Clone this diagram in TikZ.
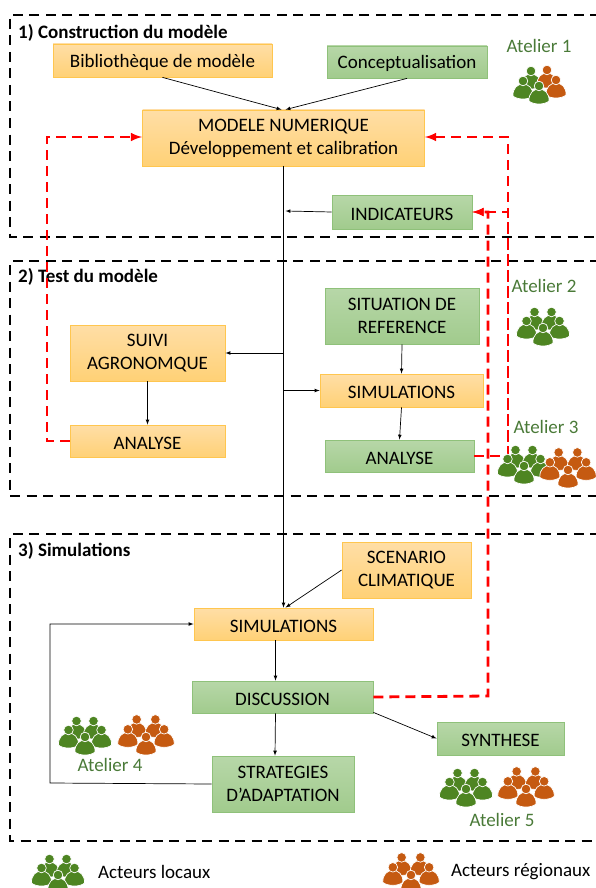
\documentclass[tikz,border=0pt]{standalone}
\usepackage{fontspec}
\setmainfont{Carlito}
\usepackage{tikz}
\definecolor{localgreen}{HTML}{4E8522}
\definecolor{regionalorange}{HTML}{C55A11}
\definecolor{ateliergreen}{HTML}{4A7A38}
\definecolor{orangetop}{HTML}{FFDEA6}
\definecolor{orangebottom}{HTML}{FFD176}
\definecolor{orangeline}{HTML}{FFC64F}
\definecolor{greentop}{HTML}{B7D7A8}
\definecolor{greenbottom}{HTML}{A1CB8D}
\definecolor{greenline}{HTML}{8FC17A}
\tikzset{
	orangebox/.style={draw=orangeline,line width=.8pt,top color=orangetop,bottom color=orangebottom,align=center,inner sep=0pt,font=\fontsize{19}{23}\selectfont,execute at begin node={\rule{0pt}{17pt}}},
	greenbox/.style={draw=greenline,line width=.8pt,top color=greentop,bottom color=greenbottom,align=center,inner sep=0pt,font=\fontsize{19}{23}\selectfont,execute at begin node={\rule{0pt}{17pt}}},
	twolines/.style={execute at begin node={\rule{0pt}{21pt}}},
	flow/.style={black,line width=.7pt,-latex},
	feedback/.style={red,line width=2.8pt,dash pattern=on 10pt off 6pt,-latex},
	frame/.style={black,line width=2.8pt,dash pattern=on 10pt off 6.5pt},
	heading/.style={font=\fontsize{19}{21}\selectfont\bfseries,anchor=west,inner sep=0pt},
	atelier/.style={font=\fontsize{19}{21}\selectfont,text=ateliergreen,inner sep=0pt},
	legend/.style={font=\fontsize{19}{21}\selectfont,anchor=west,inner sep=0pt},
	pics/person/.style={code={
		\fill[#1,draw=white,line width=.7pt] (-10,15) .. controls (-11,-1) and (11,-1) .. (10,15) .. controls (6,19) and (-6,19) .. (-10,15) -- cycle;
		\fill[#1,draw=white,line width=.7pt] (0,0) circle (4.8);
	}},
	pics/people/.style={code={
		\foreach \px/\py in {-8.5/-16,8.5/-16,-16.5/-7,16.5/-7,0/0}
			\pic at (\px,\py) {person=#1};
	}}
}
\begin{document}
\begin{tikzpicture}[x=1pt,y=-1pt]
	\useasboundingbox (0,0) rectangle (595,888);

	\draw[frame] (600,15) -- (10,15) -- (10,237) -- (600,237);
	\draw[frame] (600,261) -- (10,261) -- (10,496) -- (600,496);
	\draw[frame] (600,534) -- (10,534) -- (10,841) -- (600,841);

	\node[heading] (title1) at (18,33) {1) Construction du modèle};
	\node[heading] (title2) at (18,277) {2) Test du modèle};
	\node[heading] (title3) at (18,551) {3) Simulations};

	\node[orangebox,minimum width=219pt,minimum height=33pt] (biblio) at (162.5,60.5) {Bibliothèque de modèle};
	\node[greenbox,minimum width=160pt,minimum height=32pt] (concept) at (407,62) {Conceptualisation};
	\node[orangebox,twolines,minimum width=282pt,minimum height=56pt] (modele) at (283.5,138) {MODELE NUMERIQUE\\Développement et calibration};
	\node[greenbox,minimum width=140pt,minimum height=34pt] (indicateurs) at (402,212) {INDICATEURS};
	\node[greenbox,twolines,minimum width=154pt,minimum height=56pt] (situation) at (402,316) {SITUATION DE\\REFERENCE};
	\node[orangebox,twolines,minimum width=155pt,minimum height=56pt] (suivi) at (147.5,353) {SUIVI\\AGRONOMQUE};
	\node[orangebox,minimum width=163pt,minimum height=33pt] (simA) at (401.5,390.5) {SIMULATIONS};
	\node[orangebox,minimum width=155pt,minimum height=32pt] (analyseA) at (147.5,441) {ANALYSE};
	\node[greenbox,minimum width=149pt,minimum height=32pt] (analyseB) at (399.5,456) {ANALYSE};
	\node[orangebox,twolines,minimum width=129pt,minimum height=56pt] (scenario) at (406.5,570) {SCENARIO\\CLIMATIQUE};
	\node[orangebox,minimum width=179pt,minimum height=32pt] (simB) at (283.5,624) {SIMULATIONS};
	\node[greenbox,minimum width=181pt,minimum height=32pt] (discussion) at (282.5,697) {DISCUSSION};
	\node[greenbox,minimum width=127pt,minimum height=33pt] (synthese) at (500.5,738.5) {SYNTHESE};
	\node[greenbox,twolines,minimum width=142pt,minimum height=56pt] (strategies) at (283,784) {STRATEGIES\\D’ADAPTATION};

	\coordinate (branchA) at (283.5,211);
	\coordinate (branchB) at (283.5,353);
	\coordinate (branchC) at (283.5,390.5);
	\coordinate (loopA) at (50,783);
	\coordinate (loopB) at (50,624);
	\coordinate (redleft) at (47,137);
	\coordinate (redright) at (508,137);
	\coordinate (redmid) at (488,696);

	\draw[flow] (biblio.south) -- ([xshift=-2pt]modele.north);
	\draw[flow] (concept.south) -- ([xshift=2pt]modele.north);
	\draw[flow] (modele.south) -- (simB.north);
	\draw[flow] (indicateurs.west) -- ([xshift=2pt]branchA);
	\draw[flow] (branchB) -- (branchB -| suivi.east);
	\draw[flow] (branchC) -- (simA.west);
	\draw[flow] (situation.south) -- (simA.north);
	\draw[flow] (suivi.south) -- (analyseA.north);
	\draw[flow] (simA.south) -- (analyseB.north);
	\draw[flow] (scenario.west) -- ([xshift=2pt]simB.north);
	\draw[flow] ([xshift=-8pt]simB.south) -- ([xshift=-8pt,yshift=0pt]simB.south |- discussion.north);
	\draw[flow] ([xshift=-7pt]discussion.south) -- ([xshift=-8pt]strategies.north);
	\draw[flow] ([yshift=1pt]discussion.south east) -- (synthese.west);
	\draw[flow] (strategies.west) -- (loopA) -- (loopB) -- (simB.west);

	\draw[feedback] (analyseA.west) -- (analyseA.west -| redleft) -- (redleft) -- (redleft -| modele.west);
	\draw[feedback] (analyseB.east) -- (analyseB.east -| redright) -- (redright) -- (redright -| modele.east);
	\draw[feedback] (analyseB.east -| redright) -- (redright |- indicateurs.east) -- (indicateurs.east);
	\draw[feedback] (discussion.east) -- (redmid) -- (redmid |- indicateurs.east) -- (indicateurs.east);

	\node[atelier] (atelier1) at (539,46) {Atelier 1};
	\node[atelier] (atelier2) at (544,286) {Atelier 2};
	\node[atelier] (atelier3) at (546,427) {Atelier 3};
	\node[atelier] (atelier4) at (110,765) {Atelier 4};
	\node[atelier] (atelier5) at (502,820) {Atelier 5};

	\pic at (531,71) {person=localgreen};
	\pic at (547,70) {person=regionalorange};
	\pic at (556,80) {person=regionalorange};
	\pic at (523,81) {person=localgreen};
	\pic at (539,86) {person=localgreen};

	\pic at (543,328) {people=localgreen};
	\pic at (524,466) {people=localgreen};
	\pic[scale=1.1] at (568,470) {people=regionalorange};
	\pic at (85,737) {people=localgreen};
	\pic[scale=1.1] at (146,737) {people=regionalorange};
	\pic at (466,789) {people=localgreen};
	\pic[scale=1.1] at (526,789) {people=regionalorange};
	\pic at (58,875) {people=localgreen};
	\pic[scale=1.1] at (411,875) {people=regionalorange};

	\node[legend] (locaux) at (98,872) {Acteurs locaux};
	\node[legend] (regionaux) at (451,872) {Acteurs régionaux};
\end{tikzpicture}
\end{document}
